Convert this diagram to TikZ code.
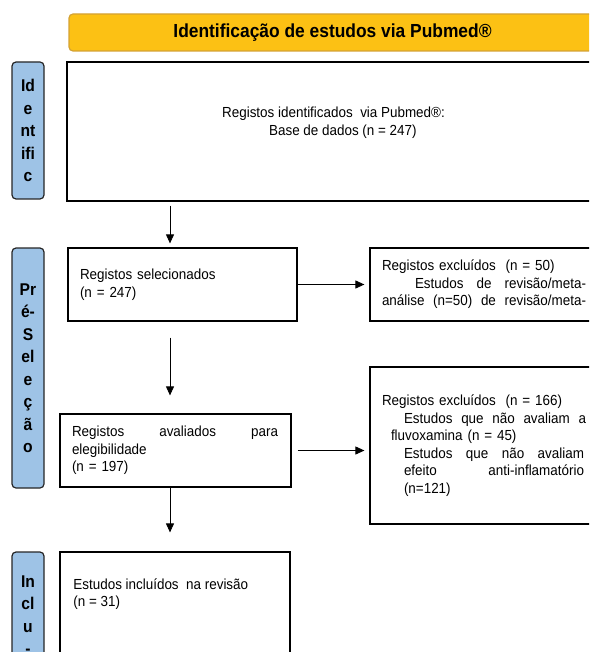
\documentclass[tikz,border=0pt]{standalone}
\usepackage{fontspec}
\setmainfont{Liberation Sans}[FakeStretch=0.92]
\usepackage{xcolor}
\usetikzlibrary{positioning,arrows.meta}
\definecolor{headyellow}{RGB}{252,193,20}
\definecolor{headborder}{RGB}{212,162,52}
\definecolor{sideblue}{RGB}{158,195,230}

\begin{document}
\begin{tikzpicture}[x=1pt,y=-1pt,->,>={Triangle[length=9pt,width=8pt]},line width=0.9pt,
  box/.style={rectangle, draw=black, line width=1.2pt, align=left, inner xsep=12pt, inner ysep=0pt,
    font=\fontsize{14.6}{17.5}\selectfont},
  plain/.style={align=left, inner sep=0pt, font=\fontsize{14.6}{17.5}\selectfont},
  side/.style={rectangle, rounded corners=4pt, draw=black!85, line width=1.2pt, fill=sideblue,
    minimum width=32pt, align=center, inner sep=0pt, font=\fontsize{17}{22.5}\selectfont\bfseries},
  head/.style={rectangle, rounded corners=4pt, draw=headborder, line width=1.2pt, fill=headyellow,
    minimum width=527pt, minimum height=37pt, font=\fontsize{18.9}{22}\selectfont\bfseries}]
  \useasboundingbox (0,0) rectangle (589,652);
  \clip (0,0) rectangle (589,652);
  \node[head] (head) at (332.5,32.5) {Identificação de estudos via Pubmed®};
  \node[box, minimum width=536pt, minimum height=139pt] (idbox) at (335,131.5) {};
  \node[plain] (idtxt) at (333.5,122.5) {Registos identificados\ \ via Pubmed®:\\\hspace*{47pt}Base de dados (n = 247)};
  \node[side, minimum height=137pt] (sideid) at (28,130.5) {Id\\e\\nt\\ifi\\c};
  \node[side, minimum height=240pt] (sidepre) at (28,368) {Pr\\é-\\S\\el\\e\\ç\\ã\\o};
  \node[side, minimum height=126pt] (sideinc) at (28,615) {In\\cl\\u\\-};
  \node[box, minimum height=73pt, text width=205pt] (sel) at (182.5,284.5) {Registos selecionados\\(n = 247)};
  \node[box, minimum height=73pt, text width=204pt] (excla) at (484,284.5)
    {Registos excluídos\ \ (n = 50)\\
     \hspace*{33pt}\makebox[171pt][l]{Estudos\hfill de\hfill revisão/meta-}\\
     \makebox[204pt][l]{análise\hfill (n=50)\hfill de\hfill revisão/meta-}};
  \node[box, minimum height=73pt, text width=207pt] (aval) at (175.5,450.5)
    {\makebox[206pt][l]{Registos\hfill avaliados\hfill para}\\elegibilidade\\(n = 197)};
  \node[box, minimum height=157pt, text width=204pt] (exclb) at (484,445.5)
    {Registos excluídos\ \ (n = 166)\\
     \hspace*{22pt}\makebox[182pt][l]{Estudos\hfill que\hfill não\hfill avaliam\hfill a}\\
     \hspace*{9pt}fluvoxamina (n = 45)\\
     \hspace*{22pt}\makebox[180pt][l]{Estudos\hfill que\hfill não\hfill avaliam}\\
     \hspace*{22pt}\makebox[180pt][l]{efeito\hfill anti-inflamatório}\\
     \hspace*{22pt}(n=121)};
  \node[box, minimum width=230pt, minimum height=168pt] (incl) at (175,636) {};
  \node[plain, anchor=north west] (incltxt) at (73,578) {Estudos incluídos\ \ na revisão\\(n = 31)};
  \coordinate (col) at (170,0);
  \path (idbox.south -| col) edge[shorten <=4pt, shorten >=4pt] (sel.north -| col)
    (sel.east) edge[shorten >=5pt] (sel.east -| excla.west)
    (sel.south -| col) edge[shorten <=16pt, shorten >=18pt] (aval.north -| col);
  \path (aval.east) edge[shorten <=6pt, shorten >=5pt] (aval.east -| exclb.west)
    (aval.south -| col) edge[shorten >=19pt] (incl.north -| col);
\end{tikzpicture}
\end{document}
